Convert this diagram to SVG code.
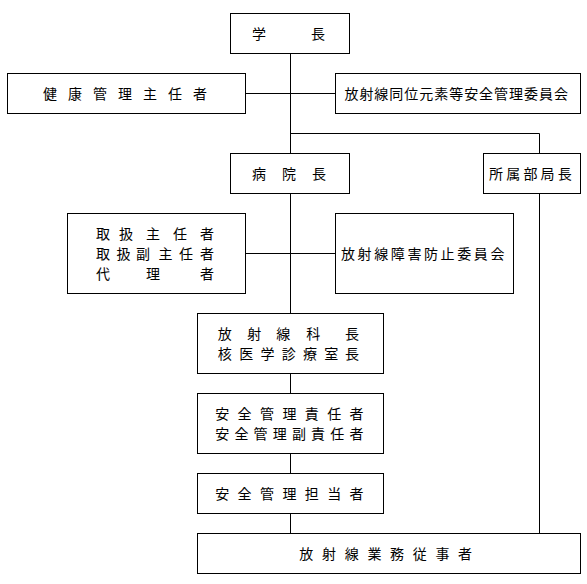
<svg xmlns="http://www.w3.org/2000/svg" width="587" height="584" viewBox="0 0 587 584">
<style>
rect.box{fill:#fff;stroke:#000;stroke-width:1}
.conn line,.conn path{stroke:#000;stroke-width:1;fill:none}
text{font-family:"Noto Sans CJK JP","Noto Sans CJK SC",sans-serif;font-size:14px;fill:#000;text-anchor:middle;dominant-baseline:central}
</style>
<rect width="587" height="584" fill="#fff"/>
<g class="conn" id="connectors">
<line x1="290.5" y1="53.5" x2="290.5" y2="153.5"/>
<line x1="245.5" y1="93.5" x2="335.5" y2="93.5"/>
<path d="M290.5 133.5 H539.5 V153.5"/>
<line x1="290.5" y1="193.5" x2="290.5" y2="313.5"/>
<line x1="245.5" y1="253.5" x2="335.5" y2="253.5"/>
<line x1="290.5" y1="373.5" x2="290.5" y2="393.5"/>
<line x1="290.5" y1="453.5" x2="290.5" y2="473.5"/>
<line x1="290.5" y1="513.5" x2="290.5" y2="533.5"/>
<line x1="539.5" y1="193.5" x2="539.5" y2="533.5"/>
</g>
<g id="gakucho">
<rect class="box" x="230.5" y="13.5" width="119" height="40"/>
<text x="259 318" y="33">学長</text>
</g>
<g id="kenko">
<rect class="box" x="7.5" y="73.5" width="238" height="40"/>
<text x="50 75 100 125 150 175 200" y="93">健康管理主任者</text>
</g>
<g id="iinkai1">
<rect class="box" x="335.5" y="73.5" width="245" height="40"/>
<text x="351.4 366.4 381.3 396.3 411.3 426.2 441.2 456.2 471.2 486.1 501.1 516.1 531 546 561" y="93">放射線同位元素等安全管理委員会</text>
</g>
<g id="byoincho">
<rect class="box" x="230.5" y="153.5" width="119" height="40"/>
<text x="259 289 319" y="173">病院長</text>
</g>
<g id="shozoku">
<rect class="box" x="483.5" y="153.5" width="97" height="40"/>
<text x="496 513.2 530.4 547.6 564.8" y="173">所属部局長</text>
</g>
<g id="toriatsukai">
<rect class="box" x="67.5" y="213.5" width="178" height="80"/>
<text x="103 126 153 180 207" y="233">取扱主任者</text>
<text x="103 123.5 143 165.5 186 207" y="253">取扱副主任者</text>
<text x="103 153 207" y="273">代理者</text>
</g>
<g id="iinkai2">
<rect class="box" x="335.5" y="213.5" width="178" height="80"/>
<text x="348 364.6 381.2 397.8 414.4 431 447.6 464.2 480.8 497.4" y="253">放射線障害防止委員会</text>
</g>
<g id="kacho">
<rect class="box" x="197.5" y="313.5" width="186" height="60"/>
<text x="224.7 254.2 283.3 313.3 352" y="333">放射線科長</text>
<text x="224.7 246.2 267.5 288.7 310 331.3 352" y="353">核医学診療室長</text>
</g>
<g id="sekinin">
<rect class="box" x="197.5" y="393.5" width="186" height="60"/>
<text x="222.2 244.6 267 289.4 311.8 334.2 356.6" y="413">安全管理責任者</text>
<text x="222.2 241.4 260.5 279.7 298.9 318.1 337.3 356.6" y="433">安全管理副責任者</text>
</g>
<g id="tanto">
<rect class="box" x="197.5" y="473.5" width="186" height="40"/>
<text x="222.2 244.6 267 289.4 311.8 334.2 356.6" y="493">安全管理担当者</text>
</g>
<g id="jujisha">
<rect class="box" x="197.5" y="533.5" width="383" height="40"/>
<text x="306.3 329 351.7 374.4 397.1 419.7 442.4 465.1" y="553">放射線業務従事者</text>
</g>
</svg>
